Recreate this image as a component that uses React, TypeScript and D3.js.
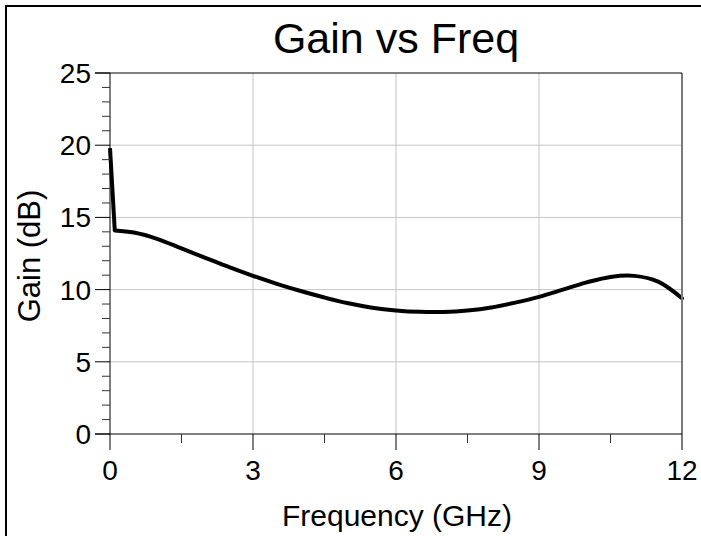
import React from "react";
import * as d3 from "d3";

const freqGHz = [0, 0.1, 0.5, 1.0, 1.5, 2.0, 2.5, 3.0, 3.5, 4.0, 4.5, 5.0, 5.5, 6.0, 6.5, 7.0, 7.5, 8.0, 8.5, 9.0, 9.5, 10.0, 10.5, 11.0, 11.5, 12.0];
const gainDb = [19.8, 14.1, 13.95, 13.5, 12.85, 12.2, 11.55, 10.95, 10.4, 9.9, 9.45, 9.05, 8.75, 8.56, 8.46, 8.45, 8.55, 8.76, 9.1, 9.5, 10.0, 10.5, 10.88, 10.95, 10.55, 9.4];
const xMajorTicks = [0, 3, 6, 9, 12];
const xMinorTicks = [1.5, 4.5, 7.5, 10.5];
const yMajorTicks = [0, 5, 10, 15, 20, 25];
const yMinorTicks = d3.range(0, 26).filter((v) => v % 5 !== 0);

const W = 701;
const H = 536;
const left = 110;
const right = 682;
const top = 73;
const bottom = 434;

export default function App() {
  const x = d3.scaleLinear().domain([0, 12]).range([left, right]);
  const y = d3.scaleLinear().domain([0, 25]).range([bottom, top]);
  const pts = freqGHz.map((f, i) => [f, gainDb[i]] as [number, number]);
  const head = pts.slice(0, 2);
  const tail = pts.slice(1);
  const lin = d3
    .line<[number, number]>()
    .x((d) => x(d[0]))
    .y((d) => y(d[1]));
  const smooth = d3
    .line<[number, number]>()
    .x((d) => x(d[0]))
    .y((d) => y(d[1]))
    .curve(d3.curveCatmullRom.alpha(0.5));
  const font = "Arial, 'Liberation Sans', sans-serif";
  return (
    <svg
      width={W}
      height={H}
      style={{ position: "absolute", left: 0, top: 0, background: "#fff" }}
      fontFamily={font}
    >
      <rect x={6} y={6} width={760} height={600} fill="#fff" stroke="#000" strokeWidth={2} />
      {/* grid */}
      {xMajorTicks.filter((t) => t > 0 && t < 12).map((t) => (
        <line key={"gx" + t} x1={x(t)} x2={x(t)} y1={top} y2={bottom} stroke="#c4c4c4" strokeWidth={1} />
      ))}
      {yMajorTicks.filter((t) => t > 0 && t < 25).map((t) => (
        <line key={"gy" + t} x1={left} x2={right} y1={y(t)} y2={y(t)} stroke="#c4c4c4" strokeWidth={1} />
      ))}
      {/* curve */}
      <path d={lin(head) || ""} fill="none" stroke="#000" strokeWidth={4} strokeLinejoin="round" strokeLinecap="butt" />
      <path d={smooth(tail) || ""} fill="none" stroke="#000" strokeWidth={4} strokeLinejoin="round" strokeLinecap="round" />
      {/* frame of plot */}
      <line x1={right} x2={right} y1={top} y2={bottom + 16} stroke="#7a7a7a" strokeWidth={2} />
      <line x1={95} x2={right} y1={top} y2={top} stroke="#000" strokeWidth={1} />
      <line x1={95} x2={right} y1={bottom} y2={bottom} stroke="#000" strokeWidth={1} />
      <line x1={left} x2={left} y1={top} y2={bottom + 16} stroke="#000" strokeWidth={1} />
      {/* y ticks */}
      {yMajorTicks.map((t) => (
        <g key={"yt" + t}>
          <line x1={95} x2={left} y1={y(t)} y2={y(t)} stroke="#000" strokeWidth={1} />
          <text x={91} y={y(t)} dy="0.36em" textAnchor="end" fontSize={28}>
            {t}
          </text>
        </g>
      ))}
      {yMinorTicks.map((t) => (
        <line key={"ym" + t} x1={102} x2={left} y1={y(t)} y2={y(t)} stroke="#333" strokeWidth={1} />
      ))}
      {/* x ticks */}
      {xMajorTicks.map((t) => (
        <g key={"xt" + t}>
          {t > 0 && t < 12 && (
            <line x1={x(t)} x2={x(t)} y1={bottom} y2={bottom + 16} stroke="#000" strokeWidth={1} />
          )}
          <text x={x(t)} y={480} textAnchor="middle" fontSize={28}>
            {t}
          </text>
        </g>
      ))}
      {xMinorTicks.map((t) => (
        <line key={"xm" + t} x1={x(t)} x2={x(t)} y1={bottom} y2={bottom + 9} stroke="#333" strokeWidth={1} />
      ))}
      {/* titles */}
      <text x={396} y={53} textAnchor="middle" fontSize={43}>
        Gain vs Freq
      </text>
      <text x={397} y={526} textAnchor="middle" fontSize={30}>
        Frequency (GHz)
      </text>
      <text transform={`translate(40,256) rotate(-90)`} textAnchor="middle" fontSize={31}>
        Gain (dB)
      </text>
    </svg>
  );
}
